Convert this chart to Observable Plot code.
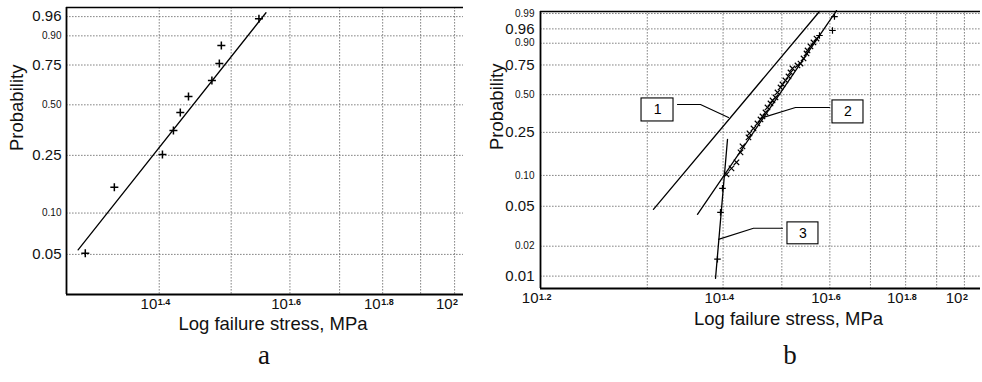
<!DOCTYPE html>
<html>
<head>
<meta charset="utf-8">
<script src="https://cdn.jsdelivr.net/npm/d3@7"></script>
<script src="https://cdn.jsdelivr.net/npm/@observablehq/plot@0.6"></script>
<style>
  html, body { margin: 0; padding: 0; background: #fff; }
  body { width: 982px; height: 382px; overflow: hidden; position: relative; font-family: "Liberation Sans", Arial, sans-serif; }
  .panel { position: absolute; top: 0; }
  .cap { position: absolute; top: 342px; font-family: "Liberation Serif", "Times New Roman", serif; font-size: 27px; line-height: 27px; transform: translateX(-50%); color: #111; }
</style>
</head>
<body>
<div id="pa" class="panel" style="left:0px"></div>
<div id="pb" class="panel" style="left:490px"></div>
<div class="cap" style="left:264px">a</div>
<div class="cap" style="left:790px">b</div>
<script>
// ---------- axis ticks ----------
const probBigA = [0.05, 0.25, 0.75, 0.96];
const probSmallA = [0.10, 0.50, 0.90];
const probBigB = [0.01, 0.05, 0.25, 0.75, 0.96];
const probSmallB = [0.02, 0.10, 0.50, 0.90, 0.99];
const stressGridA = [40, 50, 60, 70, 80, 90, 100];
const stressGridB = [30, 40, 50, 60, 70, 80, 90, 100];
const stressTicksA = [40, 60, 80, 100];
const stressExpA = ["1.4", "1.6", "1.8", "2"];
const stressTicksB = [20, 40, 60, 80, 100];
const stressExpB = ["1.2", "1.4", "1.6", "1.8", "2"];
const xTitle = "Log failure stress, MPa";
const yTitle = "Probability";

// ---------- panel a data ----------
const aStress = [31.8, 34.8, 40.4, 41.8, 42.7, 43.8, 47.1, 48.2, 48.5, 54.5];
const aProb   = [0.051, 0.152, 0.253, 0.358, 0.455, 0.551, 0.653, 0.759, 0.857, 0.955];
const aFitStress = [31.1, 55.7];
const aFitProb   = [0.054, 0.968];

// ---------- panel b data ----------
const b1FitStress = [30.71, 57.68];
const b1FitProb   = [0.0466, 0.992];
const b2FitStress = [36.30, 61.53];
const b2FitProb   = [0.0416, 0.9928];
const b3FitStress = [38.87, 40.68];
const b3FitProb   = [0.0095, 0.217];

const b2Stress = [40.52, 41.30, 42.09, 42.74, 43.06, 44.05, 44.22, 44.90, 45.58, 46.11, 46.46, 46.99,
                  47.35, 47.89, 48.26, 48.81, 49.18, 49.75, 50.12, 50.69, 51.28, 51.67, 52.06, 53.06,
                  53.67, 54.29, 54.91, 55.12, 55.75, 56.38, 57.03];
const b2Prob   = [0.1024, 0.1168, 0.1332, 0.1650, 0.1873, 0.2258, 0.2449, 0.2705, 0.2985, 0.3223, 0.3412, 0.3675,
                  0.4024, 0.4316, 0.4545, 0.4779, 0.5183, 0.5598, 0.5852, 0.6193, 0.6534, 0.6878, 0.7213, 0.7460,
                  0.7618, 0.8007, 0.8369, 0.8568, 0.8817, 0.9039, 0.9235];
const b2TopStress = [57.68, 60.60, 61.06];
const b2TopProb   = [0.9365, 0.9549, 0.9863];
const b3Stress = [39.16, 39.61, 39.91];
const b3Prob   = [0.0148, 0.0435, 0.0750];

// annotation boxes (labels 1,2,3) and leader lines, in data units
const boxLabels = ["1", "2", "3"];
const boxStress1 = [29.35, 60.60, 51.08];
const boxStress2 = [33.14, 68.17, 57.46];
const boxProb1   = [0.310, 0.2985, 0.0209];
const boxProb2   = [0.470, 0.4545, 0.0346];
const leaderStress = [[33.64, 36.71, 40.83], [59.92, 52.66, 46.63], [50.12, 44.90, 39.31]];
const leaderProb   = [[0.424, 0.424, 0.335], [0.402, 0.402, 0.335], [0.0302, 0.0302, 0.0234]];

// axis extents
const aStressDomain = [30, 102.8];
const aProbDomain = [0.0252, 0.977];
const bStressDomain = [20, 106.3];
const bProbDomain = [0.0075, 0.992];

// ---------- helpers ----------
const wb = p => Math.log(-Math.log(1 - p));   // Weibull probability transform
const zip = (xs, ps) => xs.map((s, i) => ({s, p: ps[i]}));
const plusSym = {draw(ctx, size) { const r = Math.sqrt(size / Math.PI); ctx.moveTo(-r, 0); ctx.lineTo(r, 0); ctx.moveTo(0, -r); ctx.lineTo(0, r); }};
const timesSym = {draw(ctx, size) { const r = Math.sqrt(size / Math.PI) * 0.75; ctx.moveTo(-r, -r); ctx.lineTo(r, r); ctx.moveTo(-r, r); ctx.lineTo(r, -r); }};
const FONT = "'Liberation Sans', Arial, sans-serif";
const gridStyle = {stroke: "#555", strokeOpacity: 0.9, strokeWidth: 0.8, strokeDasharray: "1.6,1.4"};

function frameMarks(o) {
  return [
    Plot.gridX(o.gridX, {...gridStyle}),
    Plot.gridY([...o.probBig, ...o.probSmall].map(wb), {...gridStyle}),
    Plot.ruleX([o.xDomain[0]], {stroke: "#000", strokeWidth: 1.8}),
    Plot.ruleY([wb(o.pDomain[0])], {stroke: "#000", strokeWidth: 1.8}),
    Plot.ruleY([wb(o.pDomain[1])], {stroke: "#000", strokeWidth: 1.4}),
    Plot.text(o.probBig, {y: wb, text: d => d.toFixed(2), frameAnchor: "left", textAnchor: "end", dx: o.yLabelDx, fontSize: 15, fill: "#111"}),
    Plot.text(o.probSmall, {y: wb, text: d => d.toFixed(2), frameAnchor: "left", textAnchor: "end", dx: o.yLabelDx, fontSize: 10, fill: "#111"}),
    Plot.text(o.ticks, {x: d => d, text: () => "10", frameAnchor: "bottom", textAnchor: "end", dx: -2, dy: 14, fontSize: 15, fill: "#111"}),
    Plot.text(o.ticks, {x: d => d, text: (d, i) => o.exps[i], frameAnchor: "bottom", textAnchor: "start", dx: -1.5, dy: o.expDy, fontSize: 9, fontWeight: "bold", fill: "#111"}),
    Plot.text([xTitle], {frameAnchor: "bottom", dx: o.titleDx, dy: o.titleDy, fontSize: 18.5, fill: "#111"}),
    Plot.text([yTitle], {frameAnchor: "left", rotate: -90, dx: o.probDx, fontSize: 18.5, fill: "#111"})
  ];
}

function makePlot(o, marks) {
  return Plot.plot({
    width: o.width, height: 340,
    marginLeft: o.ml, marginRight: o.mr, marginTop: o.mt, marginBottom: o.mb,
    x: {type: "log", domain: o.xDomain, axis: null},
    y: {type: "linear", domain: o.pDomain.map(wb), axis: null},
    style: {fontFamily: FONT, background: "transparent", overflow: "visible"},
    marks: [...frameMarks(o), ...marks]
  });
}

// ---------- panel a ----------
const optA = {width: 490, ml: 66, mr: 27, mt: 7, mb: 46, xDomain: aStressDomain, pDomain: aProbDomain,
  gridX: stressGridA, probBig: probBigA, probSmall: probSmallA, ticks: stressTicksA, exps: stressExpA,
  yLabelDx: -5, expDy: 10, titleDx: 8, titleDy: 35, probDx: -49};
document.getElementById("pa").appendChild(makePlot(optA, [
  Plot.line(zip(aFitStress, aFitProb), {x: "s", y: d => wb(d.p), stroke: "#000", strokeWidth: 1.3}),
  Plot.dot(zip(aStress, aProb), {x: "s", y: d => wb(d.p), symbol: plusSym, r: 4, stroke: "#000", fill: "none", strokeWidth: 1.5})
]));

// ---------- panel b ----------
const optB = {width: 492, ml: 50, mr: 2, mt: 11, mb: 52, xDomain: bStressDomain, pDomain: bProbDomain,
  gridX: stressGridB, probBig: probBigB, probSmall: probSmallB, ticks: stressTicksB, exps: stressExpB,
  yLabelDx: -6, expDy: 11, titleDx: 28, titleDy: 36, probDx: -43};
const boxes = boxLabels.map((t, i) => ({t, x1: boxStress1[i], x2: boxStress2[i], y1: boxProb1[i], y2: boxProb2[i]}));
const leaders = leaderStress.flatMap((xs, k) => xs.map((s, j) => ({k, s, p: leaderProb[k][j]})));
document.getElementById("pb").appendChild(makePlot(optB, [
  Plot.line(zip(b1FitStress, b1FitProb), {x: "s", y: d => wb(d.p), stroke: "#000", strokeWidth: 1.3}),
  Plot.line(zip(b2FitStress, b2FitProb), {x: "s", y: d => wb(d.p), stroke: "#000", strokeWidth: 1.3}),
  Plot.line(zip(b3FitStress, b3FitProb), {x: "s", y: d => wb(d.p), stroke: "#000", strokeWidth: 1.3}),
  Plot.dot(zip(b2Stress, b2Prob), {x: "s", y: d => wb(d.p), symbol: timesSym, r: 3.6, stroke: "#000", fill: "none", strokeWidth: 1.2}),
  Plot.dot(zip(b2TopStress, b2TopProb), {x: "s", y: d => wb(d.p), symbol: plusSym, r: 3.3, stroke: "#000", fill: "none", strokeWidth: 1.2}),
  Plot.dot(zip(b3Stress, b3Prob), {x: "s", y: d => wb(d.p), symbol: plusSym, r: 3.3, stroke: "#000", fill: "none", strokeWidth: 1.2}),
  Plot.line(leaders, {x: "s", y: d => wb(d.p), z: "k", stroke: "#000", strokeWidth: 1.1}),
  Plot.rect(boxes, {x1: "x1", x2: "x2", y1: d => wb(d.y1), y2: d => wb(d.y2), fill: "#fff", stroke: "#000", strokeWidth: 1.1}),
  Plot.text(boxes, {x: d => Math.sqrt(d.x1 * d.x2), y: d => (wb(d.y1) + wb(d.y2)) / 2, text: "t", fontSize: 14, fill: "#000"})
]));
</script>
</body>
</html>
